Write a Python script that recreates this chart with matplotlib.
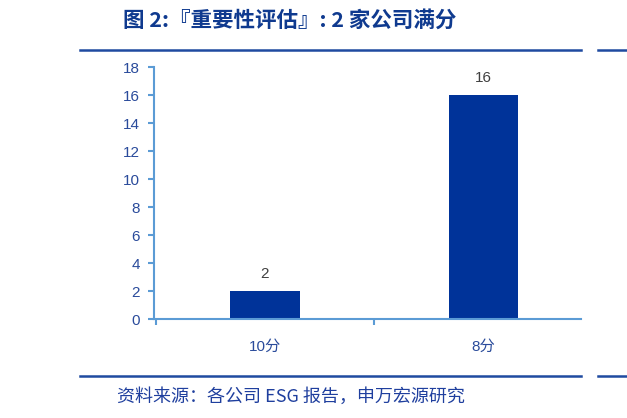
import matplotlib
matplotlib.use('Agg')
import matplotlib.pyplot as plt
from matplotlib.lines import Line2D

plt.rcParams['font.family'] = ['Liberation Sans', 'Noto Sans CJK SC', 'DejaVu Sans']

categories = ['10分', '8分']
counts = [2, 16]
y_ticks = [0, 2, 4, 6, 8, 10, 12, 14, 16, 18]

title = '图 2:『重要性评估』: 2 家公司满分'
source = '资料来源：各公司 ESG 报告，申万宏源研究'

bar_color = '#003399'
axis_color = '#5B9BD5'
label_blue = '#2A4B9B'
rule_color = '#1F4AA0'

fig = plt.figure(figsize=(6.27, 4.18), dpi=100)
ax = fig.add_axes([0.2456, 0.2368, 0.681, 0.6029])

x = list(range(len(categories)))
ax.bar(x, counts, width=0.316, color=bar_color, zorder=2)
for xi, v in zip(x, counts):
    ax.text(xi, v + 0.7, str(v), ha='center', va='bottom',
            fontsize=11, color='#404040')

ax.set_xlim(-0.508, 1.446)
ax.set_ylim(0, 18)
ax.set_yticks(y_ticks)
ax.set_yticklabels([str(t) for t in y_ticks])

ax.set_xticks(x)
ax.set_xticklabels(categories)
ax.set_xticks([-0.5, 0.5], minor=True)
ax.tick_params(axis='x', which='major', length=0, pad=15,
               labelsize=11, labelcolor=label_blue)
ax.tick_params(axis='x', which='minor', length=4, width=1.5,
               color=axis_color, direction='out')
ax.tick_params(axis='y', length=4, width=1.5, color=axis_color,
               labelsize=11, labelcolor=label_blue, pad=6)

for s in ['top', 'right']:
    ax.spines[s].set_visible(False)
for s in ['left', 'bottom']:
    ax.spines[s].set_color(axis_color)
    ax.spines[s].set_linewidth(1.5)

# header / footer rules
for yy in (0.8804, 0.1005):
    fig.add_artist(Line2D([0.1276, 0.9266], [yy, yy], color=rule_color,
                          lw=1.8, transform=fig.transFigure))
    fig.add_artist(Line2D([0.9537, 1.0], [yy, yy], color=rule_color,
                          lw=1.8, transform=fig.transFigure))

fig.text(0.196, 0.952, title, fontsize=15.5, fontweight='bold',
         color='#0F3A8F', ha='left', va='center',
         family=['Noto Sans CJK SC', 'DejaVu Sans'])
fig.text(0.1866, 0.050, source, fontsize=13, color='#1F3F9E',
         ha='left', va='center', family=['Noto Sans CJK SC', 'DejaVu Sans'])

fig.savefig('out.png', dpi=100)
plt.close()
